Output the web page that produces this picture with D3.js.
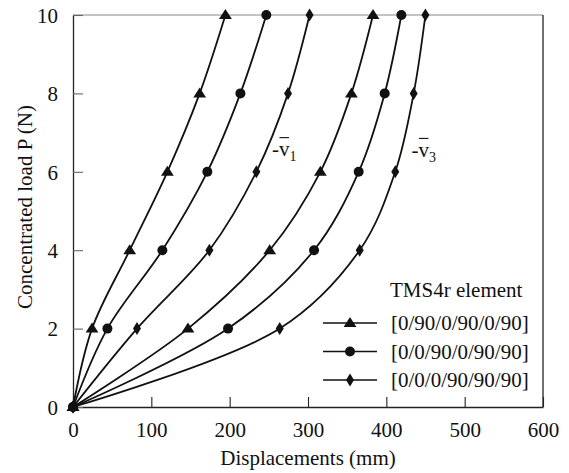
<!DOCTYPE html>
<meta charset="utf-8">
<style>
body { margin: 0; background: #fff; }
svg text { font-family: "Liberation Serif", "Times New Roman", serif; fill: #111; }
.curve { fill: none; stroke: #111; stroke-width: 1.8px; }
.mark { fill: #111; stroke: none; }
</style>
<svg id="chart" width="569" height="473"></svg>
<script src="https://cdn.jsdelivr.net/npm/d3@7/dist/d3.min.js"></script>
<script>
// loads (N) and displacements (mm)
var loads = [0, 2, 4, 6, 8, 10];
var v1Tri  = [0, 24.3, 72.4, 120.5, 161.7, 194.6];
var v1Circ = [0, 43.9, 114.1, 171.5, 213.7, 246.8];
var v1Dia  = [0, 81.7, 174.1, 234.1, 274.5, 302.0];
var v3Tri  = [0, 146.8, 251.1, 315.8, 355.4, 383.0];
var v3Circ = [0, 197.9, 307.7, 364.7, 397.9, 419.2];
var v3Dia  = [0, 263.9, 366.0, 411.4, 434.9, 449.9];
var layups = ["[0/90/0/90/0/90]", "[0/0/90/0/90/90]", "[0/0/0/90/90/90]"];
var symbols = ["tri", "circ", "dia"];
var xTicks = [0, 100, 200, 300, 400, 500, 600];
var yTicks = [0, 2, 4, 6, 8, 10];

var svg = d3.select("#chart"),
    margin = {top: 15, right: 26, bottom: 66, left: 73},
    width = 569 - margin.left - margin.right,
    height = 473 - margin.top - margin.bottom;

var x = d3.scaleLinear().domain([0, 600]).range([margin.left, margin.left + width]);
var y = d3.scaleLinear().domain([0, 10]).range([margin.top + height, margin.top]);

function markPath(kind) {
  if (kind == "tri") return "M0,-6L6.4,4L-6.4,4Z";
  if (kind == "dia") return "M0,-6.5L4,0L0,6.5L-4,0Z";
  return d3.symbol().type(d3.symbolCircle).size(Math.PI * 25)();
}

var series = [
  {vals: v1Tri, sym: "tri"}, {vals: v1Circ, sym: "circ"}, {vals: v1Dia, sym: "dia"},
  {vals: v3Tri, sym: "tri"}, {vals: v3Circ, sym: "circ"}, {vals: v3Dia, sym: "dia"}
];

// frame
svg.append("line").attr("x1", x(0)).attr("x2", x(600)).attr("y1", y(10)).attr("y2", y(10))
    .attr("stroke", "#888").attr("stroke-width", 1.2);
svg.append("line").attr("x1", x(600)).attr("x2", x(600)).attr("y1", y(10)).attr("y2", y(0))
    .attr("stroke", "#222").attr("stroke-width", 1.3);

var xAxis = svg.append("g")
    .attr("transform", "translate(0," + y(0) + ")")
    .call(d3.axisBottom(x).tickValues(xTicks).tickSizeInner(-10).tickSizeOuter(0).tickPadding(0).tickFormat(d3.format("d")));
xAxis.select(".domain").attr("stroke", "#222").attr("stroke-width", 1.3);
xAxis.selectAll(".tick line").attr("stroke", "#222").attr("stroke-width", 1.1);
xAxis.selectAll(".tick text").attr("font-size", 21).attr("fill", "#111").attr("y", 30).attr("dy", 0);

var yAxis = svg.append("g")
    .attr("transform", "translate(" + x(0) + ",0)")
    .call(d3.axisLeft(y).tickValues(yTicks).tickSizeInner(-10).tickSizeOuter(0).tickPadding(0).tickFormat(d3.format("d")));
yAxis.select(".domain").attr("stroke", "#222").attr("stroke-width", 1.3);
yAxis.selectAll(".tick line").attr("stroke", "#666").attr("stroke-width", 1.1);
yAxis.selectAll(".tick text").attr("font-size", 21).attr("fill", "#111").attr("x", -15).attr("dy", "0.35em");

svg.append("text")
    .attr("x", x(300)).attr("y", 465)
    .attr("text-anchor", "middle").attr("font-size", 21)
    .text("Displacements (mm)");
svg.append("text")
    .attr("transform", "translate(32," + 207 + ") rotate(-90)")
    .attr("text-anchor", "middle").attr("font-size", 21)
    .text("Concentrated load P (N)");

// curves
var line = d3.line()
    .x(function(d){ return x(d[0]); })
    .y(function(d){ return y(d[1]); })
    .curve(d3.curveCatmullRom.alpha(0.5));

series.forEach(function(s) {
  var pts = s.vals.map(function(v, i){ return [v, loads[i]]; });
  svg.append("path").attr("class", "curve").attr("d", line(pts));
  svg.selectAll(null).data(pts).enter().append("path")
      .attr("class", "mark")
      .attr("d", markPath(s.sym))
      .attr("transform", function(d){ return "translate(" + x(d[0]) + "," + y(d[1]) + ")"; });
});

// curve labels  -v̄1, -v̄3
function curveLabel(px, py, sub) {
  var t = svg.append("text").attr("x", x(px)).attr("y", y(py)).attr("font-size", 21);
  t.append("tspan").text("-");
  t.append("tspan").text("v");
  t.append("tspan").attr("font-size", 14).attr("dy", 5).text(sub);
  var n = t.node();
  var x0 = n.getStartPositionOfChar(1).x, x1 = n.getEndPositionOfChar(1).x;
  svg.append("line").attr("x1", x0 + 0.5).attr("x2", x1 - 0.5)
      .attr("y1", y(py) - 18.5).attr("y2", y(py) - 18.5)
      .attr("stroke", "#111").attr("stroke-width", 1.1);
}
curveLabel(254, 6.4, "1");
curveLabel(432, 6.38, "3");

// legend
var lg = svg.append("g");
lg.append("text").attr("x", 390).attr("y", 297).attr("font-size", 21).text("TMS4r element");
layups.forEach(function(name, i) {
  var ly = 323 + i * 28.5;
  lg.append("line").attr("x1", 323).attr("x2", 377).attr("y1", ly).attr("y2", ly)
      .attr("stroke", "#111").attr("stroke-width", 1.3);
  lg.append("path").attr("class", "mark").attr("d", markPath(symbols[i]))
      .attr("transform", "translate(350," + ly + ")");
  lg.append("text").attr("x", 391).attr("y", ly + 7).attr("font-size", 21).text(name);
});
</script>
